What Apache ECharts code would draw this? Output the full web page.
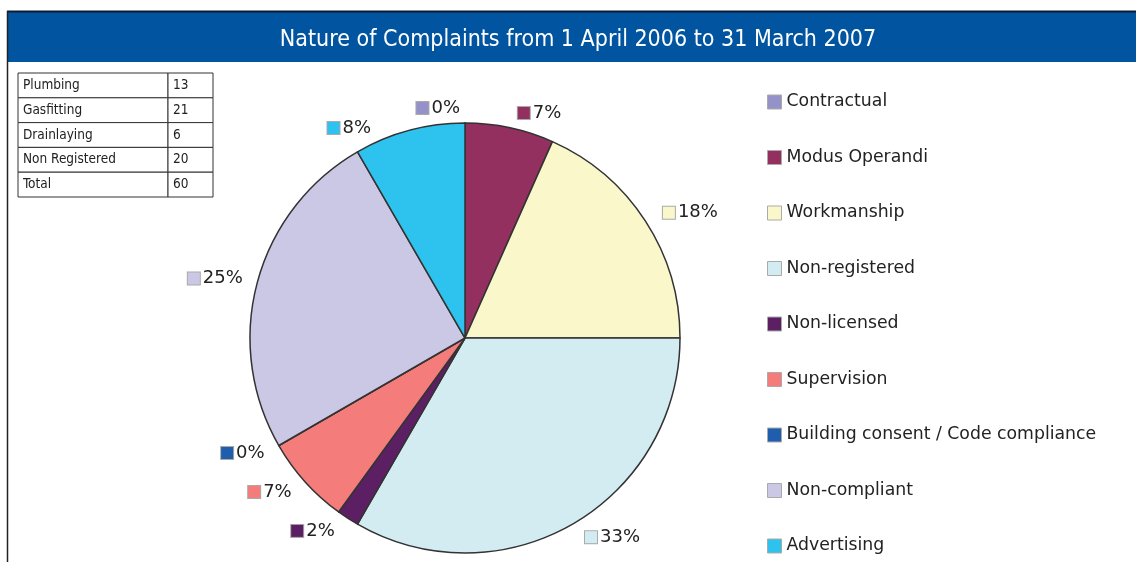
<!DOCTYPE html>
<html>

<head>
    <meta charset="utf-8"/>
    <title>Nature of Complaints</title>
    <style type="text/css">
        html, body {
            margin: 0;
            padding: 0;
            background: #fff;
        }

        #main {
            width: 1136px;
            height: 562px;
        }
    </style>
    <script type="text/javascript" src="https://cdn.jsdelivr.net/npm/echarts@6/dist/echarts.min.js"></script>
</head>

<body>
<div id="main"></div>
<script type="text/javascript">

    // complaint categories, in the order they go round the pie (clockwise from 12 o'clock)
    var categories = ['Contractual', 'Modus Operandi', 'Workmanship', 'Non-registered', 'Non-licensed',
        'Supervision', 'Building consent / Code compliance', 'Non-compliant', 'Advertising'];
    // number of complaints per category (60 in total)
    var counts = [0, 4, 11, 20, 1, 4, 0, 15, 5];
    var colors = ['#9592c9', '#93305f', '#faf7cb', '#d3ecf2', '#5d1f63',
        '#f47d7b', '#1f5ead', '#cbc8e5', '#2ec3ee'];

    // small table, top left
    var tableLabels = ['Plumbing', 'Gasfitting', 'Drainlaying', 'Non Registered', 'Total'];
    var tableValues = [13, 21, 6, 20, 60];

    var condensed = '"DejaVu Sans Condensed", "Liberation Sans", sans-serif';

    var myChart = echarts.init(document.getElementById('main'));

    var pieData = [];
    var rich = {
        t: {fontFamily: 'DejaVu Sans', fontSize: 18, color: '#222', padding: [0, 0, 0, 3]}
    };
    for (var i = 0; i < categories.length; i++) {
        pieData.push({name: categories[i], value: counts[i], itemStyle: {color: colors[i]}});
        rich['s' + i] = {
            width: 12, height: 12, backgroundColor: colors[i],
            borderColor: '#aaa', borderWidth: 1
        };
    }

    var graphics = [
        // blue title band
        {type: 'rect', shape: {x: 7, y: 11, width: 1129, height: 51}, style: {fill: '#0054a0'}},
        {type: 'line', shape: {x1: 7, y1: 11.5, x2: 1136, y2: 11.5}, style: {stroke: '#0b1c33', lineWidth: 2}},
        // left frame line
        {type: 'line', shape: {x1: 7.5, y1: 11, x2: 7.5, y2: 562}, style: {stroke: '#222', lineWidth: 1.5}}
    ];
    // the table as graphic elements
    var tx = 18, ty = 73, rowH = 24.8, col1 = 150, col2 = 45;
    for (var r = 0; r < tableLabels.length; r++) {
        var y = ty + r * rowH;
        graphics.push({type: 'rect', shape: {x: tx, y: y, width: col1, height: rowH},
            style: {fill: '#fff', stroke: '#333', lineWidth: 1}});
        graphics.push({type: 'rect', shape: {x: tx + col1, y: y, width: col2, height: rowH},
            style: {fill: '#fff', stroke: '#333', lineWidth: 1}});
        graphics.push({type: 'text', x: tx + 5, y: y + rowH / 2,
            style: {text: tableLabels[r], fill: '#222', font: '13.5px ' + condensed, textVerticalAlign: 'middle'}});
        graphics.push({type: 'text', x: tx + col1 + 5, y: y + rowH / 2,
            style: {text: String(tableValues[r]), fill: '#222', font: '13.5px ' + condensed, textVerticalAlign: 'middle'}});
    }

    var option = {
        animation: false,
        title: {
            text: 'Nature of Complaints from 1 April 2006 to 31 March 2007',
            left: 573,
            textAlign: 'center',
            top: 24,
            textStyle: {
                color: '#fff',
                fontFamily: condensed,
                fontSize: 23,
                fontWeight: 'normal'
            }
        },
        graphic: graphics,
        legend: {
            orient: 'vertical',
            left: 762,
            top: 87,
            icon: 'rect',
            itemWidth: 14,
            itemHeight: 14,
            itemGap: 35.5,
            itemStyle: {borderColor: '#aaa', borderWidth: 1},
            textStyle: {fontFamily: 'DejaVu Sans', fontSize: 17.3, color: '#222', lineHeight: 20},
            data: categories
        },
        series: [{
            type: 'pie',
            center: [465, 338],
            radius: 215,
            startAngle: 90,
            clockwise: true,
            percentPrecision: 0,
            avoidLabelOverlap: true,
            itemStyle: {borderColor: '#333', borderWidth: 1.5},
            label: {
                show: true,
                position: 'outside',
                formatter: function (p) {
                    return '{s' + p.dataIndex + '|}{t|' + p.percent + '%}';
                },
                rich: rich
            },
            labelLine: {show: false, length: 15, length2: 0},
            emphasis: {disabled: true},
            data: pieData
        }]
    };

    myChart.setOption(option);

</script>

</body>

</html>
